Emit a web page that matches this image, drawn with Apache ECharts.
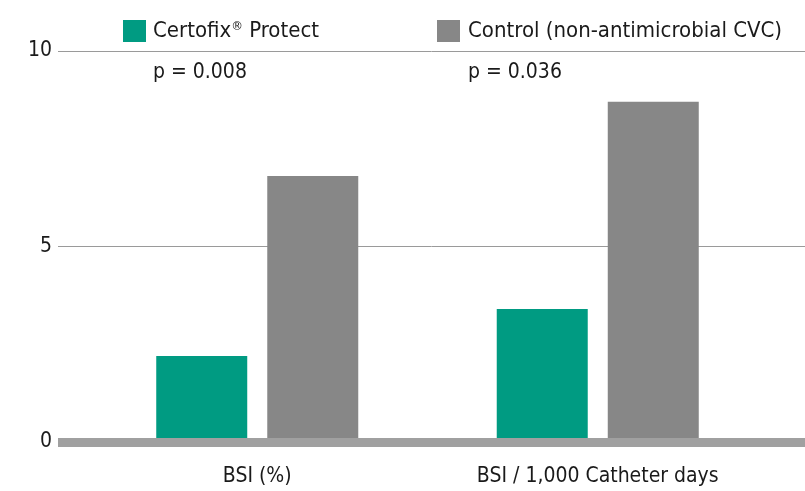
<!DOCTYPE html>
<html><head><meta charset="utf-8">
<script src="https://cdn.jsdelivr.net/npm/echarts@6/dist/echarts.min.js"></script>
<style>html,body{margin:0;padding:0;background:#fff}#c{width:805px;height:491px}</style>
</head><body><div id="c"></div>
<script>
const categories = ['BSI (%)', 'BSI / 1,000 Catheter days'];
const certofix = [2.2, 3.4];
const control = [6.8, 8.7];
const seriesNames = ['Certofix\u00AE Protect', 'Control (non-antimicrobial CVC)'];
const pValues = ['p = 0.008', 'p = 0.036'];
const yTicks = [0, 5, 10];

const FONT = '"DejaVu Sans Condensed", sans-serif';
const FS = 21;
const LFS = 22;
const TXT = '#1a1a1a';
const GREEN = '#009b82';
const GRAY = '#878787';

const legendText = {
  fontFamily: FONT, fontSize: LFS, color: TXT,
  rich: {
    n: {fontFamily: FONT, fontSize: LFS, color: TXT},
    r: {fontFamily: FONT, fontSize: 13, color: TXT, padding: [0, 0, 9, 0]}
  }
};
function legendFormatter(name) {
  const parts = name.split('\u00AE');
  if (parts.length === 1) return '{n|' + name + '}';
  return '{n|' + parts[0] + '}{r|\u00AE}{n|' + parts[1] + '}';
}

const chart = echarts.init(document.getElementById('c'), null, {renderer: 'canvas'});
const gTop = 51, gBottom = 49;
chart.setOption({
  animation: false,
  textStyle: {fontFamily: FONT},
  grid: [
    {left: 58, right: 0, top: gTop, bottom: gBottom},
    {left: 87, right: 37, top: gTop, bottom: gBottom}
  ],
  legend: [
    {left: 118, top: 15, itemWidth: 23, itemHeight: 22, itemGap: 0, data: [seriesNames[0]],
     formatter: legendFormatter, textStyle: Object.assign({padding: [0, 0, 0, 2]}, legendText), icon: 'rect'},
    {left: 432, top: 15, itemWidth: 23, itemHeight: 22, itemGap: 0, data: [seriesNames[1]],
     formatter: legendFormatter, textStyle: Object.assign({padding: [0, 0, 0, 3]}, legendText), icon: 'rect'}
  ],
  xAxis: [
    {gridIndex: 0, type: 'category', data: categories, z: 10,
     axisLine: {show: true, lineStyle: {color: '#a0a0a0', width: 9, cap: 'butt'}},
     axisTick: {show: false}, axisLabel: {show: false}, splitLine: {show: false}},
    {gridIndex: 1, type: 'category', data: categories,
     axisLine: {show: false}, axisTick: {show: false},
     axisLabel: {color: TXT, fontFamily: FONT, fontSize: FS, margin: 24}}
  ],
  yAxis: [
    {gridIndex: 0, type: 'value', min: yTicks[0], max: yTicks[yTicks.length - 1], interval: 5,
     axisLine: {show: false}, axisTick: {show: false},
     axisLabel: {color: TXT, fontFamily: FONT, fontSize: FS, margin: 6, padding: [3, 0, 0, 0]},
     splitLine: {show: true, lineStyle: {color: '#9a9a9a', width: 1}}},
    {gridIndex: 1, type: 'value', min: 0, max: 10, show: false}
  ],
  graphic: [
    {type: 'text', left: 153, top: 62, style: {text: pValues[0], font: FS + 'px ' + FONT, fill: TXT}},
    {type: 'text', left: 468, top: 62, style: {text: pValues[1], font: FS + 'px ' + FONT, fill: TXT}}
  ],
  series: [
    {name: seriesNames[0], type: 'bar', xAxisIndex: 1, yAxisIndex: 1, data: certofix,
     barWidth: 91, barGap: '22%', itemStyle: {color: GREEN}},
    {name: seriesNames[1], type: 'bar', xAxisIndex: 1, yAxisIndex: 1, data: control,
     barWidth: 91, barGap: '22%', itemStyle: {color: GRAY}}
  ]
});
</script></body></html>
